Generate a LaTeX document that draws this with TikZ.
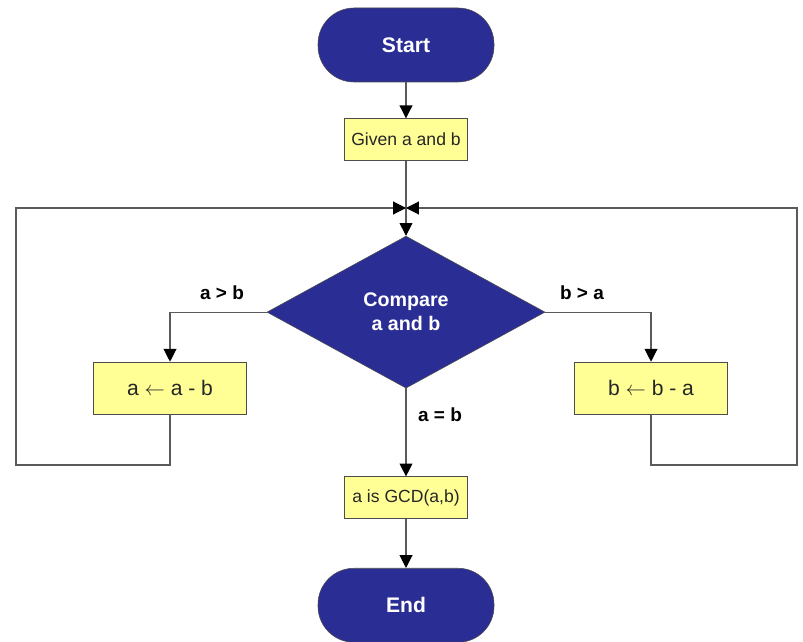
\documentclass[tikz,border=0pt]{standalone}
\usepackage{fontspec}
\setmainfont{Liberation Sans}
\usetikzlibrary{positioning, arrows.meta, shapes.geometric}
\definecolor{darkblue}{RGB}{42,45,148}
\definecolor{paleyellow}{RGB}{255,255,150}
\definecolor{linegray}{RGB}{90,90,90}

\begin{document}
\begin{tikzpicture}[
    pill/.style={rectangle, rounded corners=9mm, draw=black!70, fill=darkblue,
                 minimum height=1.85cm, minimum width=4.4cm,
                 text=white, font=\fontsize{15}{18}\selectfont\bfseries},
    yblock/.style={rectangle, draw=black!70, fill=paleyellow,
                   minimum height=1.05cm, minimum width=3.08cm,
                   text=black!85, font=\fontsize{12.5}{14}\selectfont},
    sblock/.style={yblock, minimum height=1.3cm, minimum width=3.83cm,
                   font=\fontsize{15}{18}\selectfont},
    decide/.style={diamond, draw=black!70, fill=darkblue, inner sep=0pt,
                   minimum width=6.95cm, minimum height=3.8cm, align=center,
                   text=white, font=\fontsize{14}{17}\selectfont\bfseries},
    lbl/.style={font=\fontsize{13.5}{16}\selectfont\bfseries},
    arr/.style={-{Triangle[length=3.2mm, width=3.2mm, color=black]}, linegray, thick},
    ln/.style={linegray, thick},
]
\useasboundingbox (0,0) rectangle (20.075,-16.025);
% main column
\node[pill] (start) at (10.15,-1.125) {Start};
\node[yblock, below=0.9cm of start] (given) {Given a and b};
\node[decide, below=1.875cm of given] (cmp) {Compare\\a and b};
\node[yblock, below=2.2cm of cmp] (gcd) {a is GCD(a,b)};
\node[pill, below=1.225cm of gcd] (end) {End};
% side boxes
\node[sblock] (suba) at (4.25,-9.7) {a $\leftarrow$ a - b};
\node[sblock] (subb) at (16.275,-9.7) {b $\leftarrow$ b - a};
\coordinate (join) at (10.15,-5.2);
% labels
\node[lbl] (gt) at (5.55,-7.33) {a > b};
\node[lbl] (lt) at (14.55,-7.33) {b > a};
\node[lbl] (eq) at (11.0,-10.38) {a = b};
% connectors
\draw[arr] (start) -- (given);
\draw[ln] (given) -- (join);
\draw[arr] (join) -- (cmp.north);
\draw[arr] (cmp.west) -| (suba.north);
\draw[arr] (cmp.east) -| (subb.north);
\draw[arr] (cmp.south) -- (gcd);
\draw[arr] (gcd) -- (end);
\draw[arr] (suba.south) |- (0.4,-11.625) |- (join);
\draw[arr] (subb.south) |- (19.925,-11.625) |- (join);
\end{tikzpicture}
\end{document}
